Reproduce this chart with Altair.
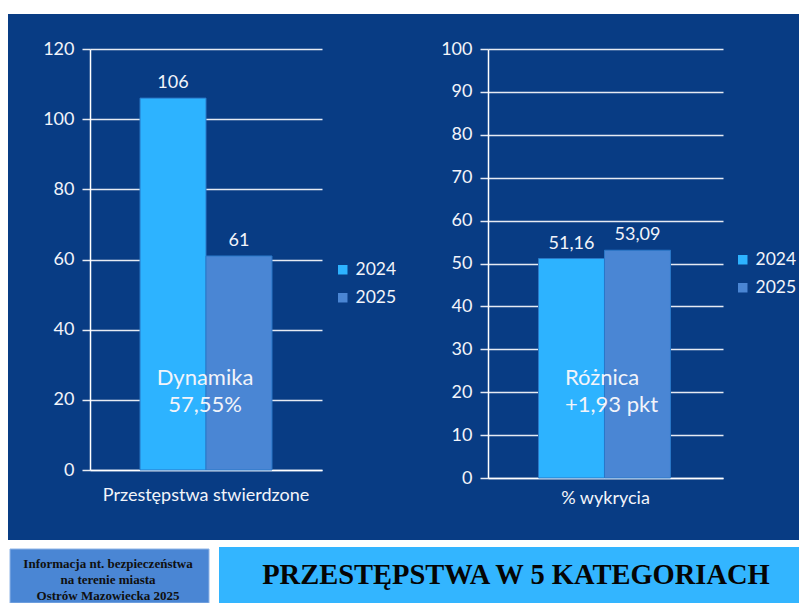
import altair as alt
import pandas as pd

# ---- data ----
years = ["2024", "2025"]
left_category = "Przestępstwa stwierdzone"
left_values = [106, 61]
left_labels = ["106", "61"]
left_ticks = [0, 20, 40, 60, 80, 100, 120]
right_category = "% wykrycia"
right_values = [51.16, 53.09]
right_labels = ["51,16", "53,09"]
right_ticks = [0, 10, 20, 30, 40, 50, 60, 70, 80, 90, 100]
left_note = "Dynamika\n57,55%"
right_note = "Różnica\n+1,93 pkt"
banner_small = "Informacja nt. bezpieczeństwa\nna terenie miasta\nOstrów Mazowiecka 2025"
banner_title = "PRZESTĘPSTWA  W 5 KATEGORIACH"

# ---- style ----
BG = "#083C84"
C2024 = "#2DB3FF"
C2025 = "#4A86D4"
TXT = "#F2F4FA"
GRID = "#E6EAF2"
FONT = "Lato"
LEFT_EXT = 82      # width of left y-axis area
FULL_W = 791       # total drawable width

left_df = pd.DataFrame({"cat": [left_category] * 2, "year": years,
                        "value": left_values, "label": left_labels})
right_df = pd.DataFrame({"cat": [right_category] * 2, "year": years,
                         "value": right_values, "label": right_labels})


def panel(df, ticks, ymax, w, h, pad_outer, xlab_pad, note, note_x, note_y, note_align,
          legend_x, legend_y, min_extent):
    color = alt.Color(
        "year:N",
        scale=alt.Scale(domain=years, range=[C2024, C2025]),
        legend=alt.Legend(title=None, orient="none", legendX=legend_x, legendY=legend_y,
                          symbolType="square", symbolSize=90, symbolStrokeWidth=0,
                          labelFont=FONT, labelFontSize=17.5, labelColor=TXT,
                          rowPadding=9, labelOffset=4),
    )
    x = alt.X("cat:N", title=None,
              scale=alt.Scale(paddingOuter=pad_outer, paddingInner=0),
              axis=alt.Axis(labelAngle=0, ticks=False, domainColor="white", domainWidth=1.5,
                            labelColor=TXT, labelFont=FONT, labelFontSize=18,
                            labelLimit=400, labelPadding=xlab_pad))
    xo = alt.XOffset("year:N", sort=years, scale=alt.Scale(paddingInner=0, paddingOuter=0))
    y = alt.Y("value:Q", title=None,
              scale=alt.Scale(domain=[0, ymax], nice=False),
              axis=alt.Axis(values=ticks, grid=True, gridColor=GRID, gridWidth=1.5,
                            tickColor=GRID, tickSize=8, tickWidth=1.5,
                            domainColor="white", domainWidth=1.5,
                            labelColor=TXT, labelFont=FONT, labelFontSize=18,
                            labelPadding=8, minExtent=min_extent, format="d"))
    bars = alt.Chart(df).mark_bar(stroke="#2a78c8", strokeWidth=1).encode(
        x=x, xOffset=xo, y=y, color=color)
    vals = alt.Chart(df).mark_text(baseline="bottom", dy=-6, font=FONT, fontSize=18,
                                   color=TXT).encode(x=x, xOffset=xo, y=y, text="label:N")
    ann = alt.Chart(pd.DataFrame({"t": [note]})).mark_text(
        lineBreak="\n", font=FONT, fontSize=22, color=TXT, align=note_align,
        baseline="middle", lineHeight=27).encode(
        x=alt.value(note_x), y=alt.value(note_y), text="t:N")
    return alt.layer(bars, vals, ann).properties(width=w, height=h)


left = panel(left_df, left_ticks, 120, 232, 421, 0.379, 16, left_note, 115, 329, "center",
             244, 212, LEFT_EXT)
right = panel(right_df, right_ticks, 100, 235, 429, 0.377, 11, right_note, 77, 329, "left",
              246, 202, 91)

inner_w = FULL_W - LEFT_EXT

top_strip = alt.Chart(pd.DataFrame({"k": [0]})).mark_rect(color="white").encode(
    x=alt.value(-LEFT_EXT), x2=alt.value(inner_w), y=alt.value(0), y2=alt.value(6)
).properties(width=inner_w, height=32)

bh = 96
banner_base = alt.Chart(pd.DataFrame({"k": [0]}))
white = banner_base.mark_rect(color="white").encode(
    x=alt.value(-LEFT_EXT), x2=alt.value(inner_w), y=alt.value(33), y2=alt.value(bh))
box1 = banner_base.mark_rect(color=C2025, stroke="#8FB4E6", strokeWidth=1).encode(
    x=alt.value(-80), x2=alt.value(119), y=alt.value(42), y2=alt.value(bh))
box2 = banner_base.mark_rect(color="#33B5FF").encode(
    x=alt.value(129), x2=alt.value(inner_w), y=alt.value(40), y2=alt.value(bh))
t1 = alt.Chart(pd.DataFrame({"t": [banner_small]})).mark_text(
    lineBreak="\n", font="Liberation Serif", fontWeight="bold", fontSize=13,
    color="#101010", align="center", baseline="middle", lineHeight=16).encode(
    x=alt.value(18), y=alt.value(57), text="t:N")
t2 = alt.Chart(pd.DataFrame({"t": [banner_title]})).mark_text(
    font="Liberation Serif", fontWeight="bold", fontSize=28.5, color="#050505",
    align="center", baseline="middle").encode(
    x=alt.value(426), y=alt.value(68), text="t:N")
banner = alt.layer(white, box1, box2, t1, t2).properties(width=inner_w, height=bh)

middle = alt.hconcat(left, right, spacing=0).resolve_scale(color="independent").resolve_legend(color="independent")

chart = alt.concat(top_strip, middle, banner, columns=1, spacing=0).properties(
    padding=0, background=BG
).configure_view(strokeWidth=0)

chart.save("out.html", embed_options={"renderer": "svg", "actions": False})
